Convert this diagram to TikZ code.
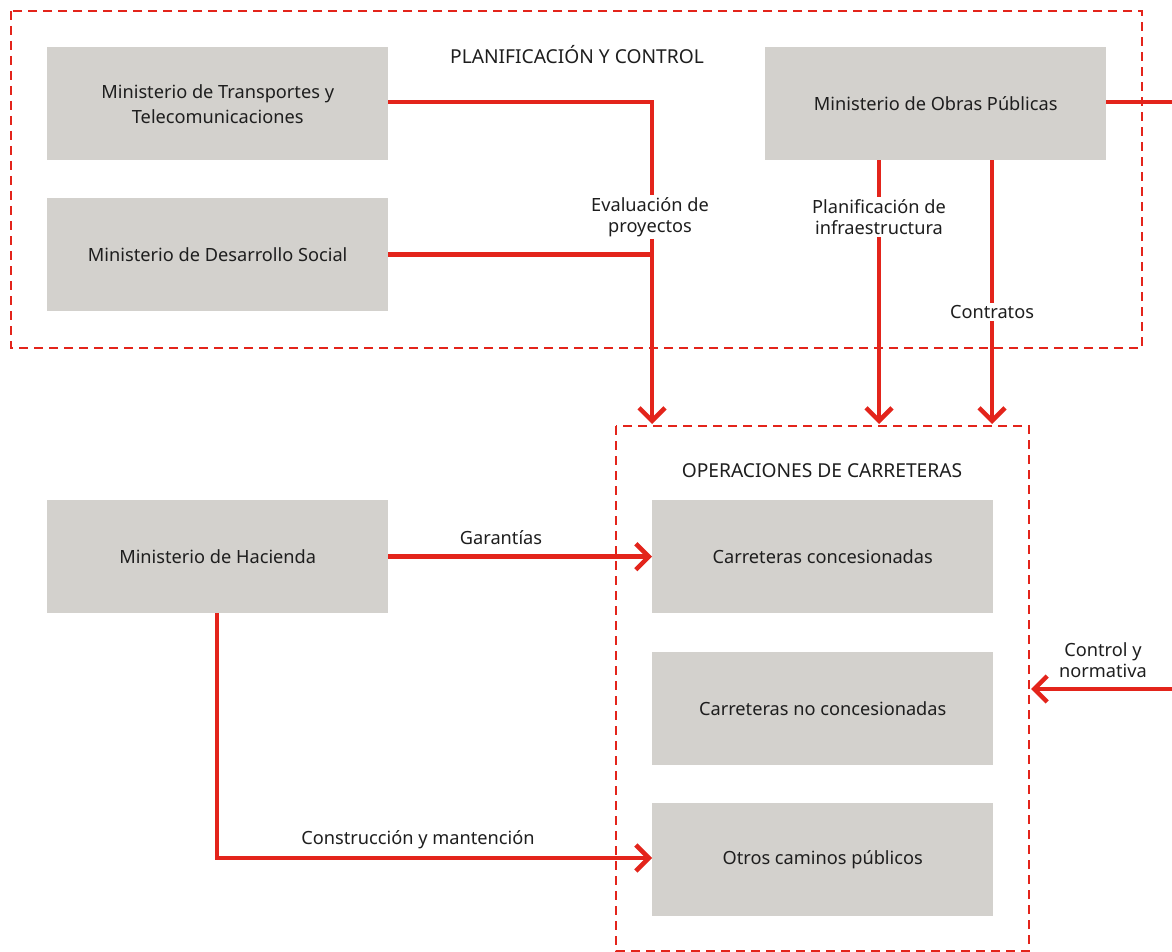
\documentclass[tikz,border=0pt]{standalone}
\usepackage{fontspec}
\setmainfont{Noto Sans}
\usetikzlibrary{arrows.meta}
\definecolor{linkred}{HTML}{E3241B}
\definecolor{boxgray}{HTML}{D3D1CD}
\definecolor{txt}{HTML}{1E1E1E}
\begin{document}
\begin{tikzpicture}[x=1pt,y=-1pt,
  entity/.style={fill=boxgray,minimum width=341pt,minimum height=113pt,inner sep=0pt,
    text=txt,font=\fontsize{18.2}{25}\selectfont,align=center,anchor=north west},
  frame/.style={draw=linkred,line width=2pt,dash pattern=on 9pt off 6pt},
  link/.style={draw=linkred,line width=4.5pt},
  tip/.style={-{Straight Barb[length=13pt,width=26pt,line width=4.5pt]}},
  lbl/.style={fill=white,inner sep=2pt,text=txt,font=\fontsize{18.2}{21.5}\selectfont,align=center},
  head/.style={text=txt,font=\fontsize{18.2}{21.5}\selectfont},
  title/.style={text=txt,font=\fontsize{19.2}{22}\selectfont}]
\useasboundingbox (0,0) rectangle (1172,952);
\fill[white] (0,0) rectangle (1172,952);

% group frames
\draw[frame] (11,11) rectangle (1142,348);
\draw[frame] (616,426) rectangle (1029,951);
\node[title] (plan) at (577,55) {PLANIFICACIÓN Y CONTROL};
\node[title] (oper) at (822,471) {OPERACIONES DE CARRETERAS};

% institutions
\node[entity] (mtt) at (47,47) {Ministerio de Transportes y\\Telecomunicaciones};
\node[entity] (mds) at (47,198) {Ministerio de Desarrollo Social};
\node[entity] (mop) at (765,47) {Ministerio de Obras Públicas};
\node[entity] (mh) at (47,500) {Ministerio de Hacienda};
\node[entity] (cc) at (652,500) {Carreteras concesionadas};
\node[entity] (cnc) at (652,652) {Carreteras no concesionadas};
\node[entity] (ocp) at (652,803) {Otros caminos públicos};

% connector end points
\coordinate (evaltop) at (652,102);
\coordinate (evalend) at (652,424);
\coordinate (planend) at (879,424);
\coordinate (contend) at (992,424);
\coordinate (mopout) at (1172,102);
\coordinate (ctrlin) at (1172,689);
\coordinate (ctrlend) at (1031,689);
\coordinate (hacturn) at (217,858);

% project evaluation
\draw[link] (mtt.east |- evaltop) -- (evaltop) -- (evalend |- mds.east);
\draw[link] (mds.east) -- (evalend |- mds.east);
\draw[link,tip] (evaltop) -- (evalend);
\node[lbl] (evallbl) at (650,217) {Evaluación de\\proyectos};

% public works ministry
\draw[link,tip] (mop.south -| planend) -- (planend);
\node[lbl] (planlbl) at (879,217) {Planificación de\\infraestructura};
\draw[link,tip] (mop.south -| contend) -- (contend);
\node[lbl] (contlbl) at (992,312) {Contratos};
\draw[link] (mop.east |- mopout) -- (mopout);

% control and regulation
\draw[link,tip] (ctrlin) -- (ctrlend);
\node[head,align=center] (ctrllbl) at (1103,660) {Control y\\normativa};

% finance ministry
\draw[link,tip] (mh.east) -- (cc.west);
\node[head] (garlbl) at (501,538) {Garantías};
\draw[link,tip] (mh.south -| hacturn) -- (hacturn) -- (ocp.west |- hacturn);
\node[head] (conslbl) at (418,840) {Construcción y mantención};
\end{tikzpicture}
\end{document}
